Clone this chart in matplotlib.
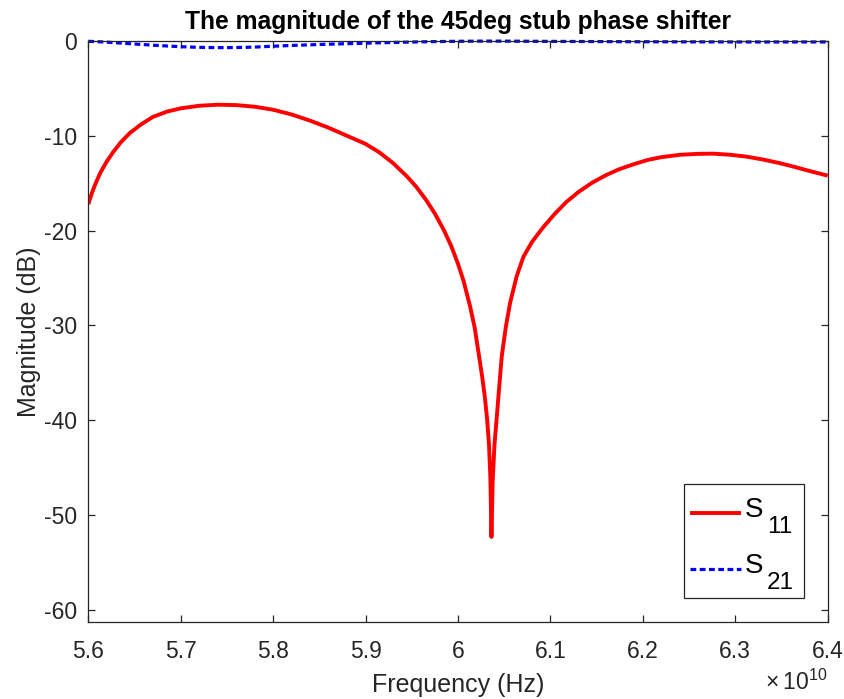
import numpy as np
import matplotlib
matplotlib.use("Agg")
import matplotlib.pyplot as plt
from matplotlib.ticker import FixedLocator, FuncFormatter
from matplotlib.patches import Rectangle
from matplotlib.lines import Line2D

plt.rcParams['font.family'] = ['Liberation Sans', 'DejaVu Sans']
plt.rcParams['mathtext.fontset'] = 'custom'
plt.rcParams['mathtext.rm'] = 'Liberation Sans'
plt.rcParams['mathtext.it'] = 'Liberation Sans'

# Frequency in units of 1e10 Hz, magnitudes in dB
freq_s11 = [5.600, 5.604, 5.608, 5.613, 5.620, 5.627, 5.635, 5.645, 5.657, 5.670,
            5.685, 5.700, 5.720, 5.740, 5.760, 5.780, 5.800, 5.820, 5.840, 5.860,
            5.880, 5.900, 5.915, 5.930, 5.945, 5.955, 5.965, 5.975, 5.985, 5.993,
            6.000, 6.006, 6.0131, 6.018, 6.0221, 6.026, 6.029, 6.0315, 6.0335, 6.035,
            6.0362, 6.0375, 6.0395, 6.042, 6.045, 6.0474, 6.052, 6.0564, 6.0635, 6.0708,
            6.080, 6.0925, 6.105, 6.117, 6.130, 6.145, 6.160, 6.175, 6.190, 6.205,
            6.220, 6.240, 6.260, 6.276, 6.295, 6.3125, 6.330, 6.349, 6.365, 6.380,
            6.400]
mag_s11 = [-17.2, -16.0, -15.0, -13.9, -12.7, -11.7, -10.7, -9.7, -8.8, -8.0,
           -7.45, -7.1, -6.83, -6.72, -6.76, -6.93, -7.25, -7.75, -8.4, -9.15,
           -10.0, -10.85, -11.75, -12.9, -14.3, -15.4, -16.7, -18.2, -20.0, -21.7,
           -23.5, -25.3, -28.0, -30.2, -32.8, -35.3, -37.5, -39.9, -42.5, -46.0,
           -52.3, -46.5, -42.5, -39.6, -36.0, -33.2, -30.0, -27.6, -24.8, -22.75,
           -21.2, -19.6, -18.2, -17.0, -15.95, -14.95, -14.15, -13.5, -13.0, -12.55,
           -12.25, -12.0, -11.9, -11.88, -12.0, -12.2, -12.5, -12.9, -13.3, -13.7,
           -14.2]

freq_s21 = [5.60, 5.62, 5.64, 5.66, 5.68, 5.70, 5.72, 5.74, 5.76, 5.78,
            5.80, 5.82, 5.85, 5.88, 5.91, 5.94, 5.97, 6.00, 6.03, 6.06,
            6.10, 6.15, 6.20, 6.30, 6.40]
mag_s21 = [-0.03, -0.12, -0.25, -0.38, -0.50, -0.60, -0.67, -0.70, -0.69, -0.64,
           -0.55, -0.47, -0.37, -0.28, -0.20, -0.13, -0.07, -0.03, -0.01, -0.02,
           -0.04, -0.06, -0.08, -0.10, -0.10]

x_ticks = [5.6, 5.7, 5.8, 5.9, 6.0, 6.1, 6.2, 6.3, 6.4]
y_ticks = [0, -10, -20, -30, -40, -50, -60]
series_names = ['S', 'S']
series_subs = ['11', '21']

W, H = 845, 699
fig = plt.figure(figsize=(W / 100, H / 100), dpi=100)
ax = fig.add_axes([88.3 / W, 1 - 621.7 / H, (827.7 - 88.3) / W, (621.7 - 41) / H])

text_c = '#262626'
s11_style = dict(color='#ff0000', lw=2.8, solid_joinstyle='round', solid_capstyle='butt')
s21_style = dict(color='#0000ff', lw=2.3, linestyle=(0, (1.8, 1.1)))
ax.plot(freq_s11, mag_s11, **s11_style)
ax.plot(freq_s21, mag_s21, clip_on=False, **s21_style)

ax.set_xlim(5.6, 6.4)
ax.set_ylim(-61.24, 0)
ax.xaxis.set_major_locator(FixedLocator(x_ticks))
ax.yaxis.set_major_locator(FixedLocator(y_ticks))
ax.xaxis.set_major_formatter(FuncFormatter(lambda v, p: '%g' % round(v, 3)))
ax.yaxis.set_major_formatter(FuncFormatter(lambda v, p: '%g' % v))

ax.tick_params(direction='in', length=5, width=0.9, color=text_c,
               labelsize=16.5, labelcolor=text_c, top=True, right=True)
ax.tick_params(axis='x', pad=13)
ax.tick_params(axis='y', pad=8)
for s in ax.spines.values():
    s.set_color(text_c)
    s.set_linewidth(0.9)

ax.set_title('The magnitude of the 45deg stub phase shifter', fontsize=17.7,
             fontweight='bold', color='black', y=1.0 + 12 / 580.7, pad=0)
ax.set_xlabel('Frequency (Hz)', fontsize=18, color=text_c, labelpad=7.5)
ax.set_ylabel('Magnitude (dB)', fontsize=18, color=text_c, labelpad=2)

ax.text(1.0, -0.104, '\u00d7\u200910$^{10}$', transform=ax.transAxes,
        ha='right', va='center', fontsize=16.5, color=text_c)

# Legend box (figure-pixel layout), with lowered subscripts on the series names
def px(x, y):
    return x / W, 1 - y / H

tf = fig.transFigure
x0, y0 = px(684, 598)
fig.patches.append(Rectangle((x0, y0), 120 / W, 114 / H, transform=tf,
                             facecolor='white', edgecolor=text_c, lw=0.9, zorder=5))
rows_y = [513, 569]
for (name, sub, style, ry) in zip(series_names, series_subs, [s11_style, s21_style], rows_y):
    (lx0, ly), (lx1, _) = px(690, ry), px(741, ry)
    fig.lines.append(Line2D([lx0, lx1], [ly, ly], transform=tf, zorder=6, **style))
    fig.text(*px(745, ry + 4), name, fontsize=20, color='black',
             ha='left', va='baseline', zorder=7)
    fig.text(*px(767, ry + 20), sub, fontsize=17.5, color='black',
             ha='left', va='baseline', zorder=7)

fig.savefig('out.png', dpi=100, facecolor='white')
